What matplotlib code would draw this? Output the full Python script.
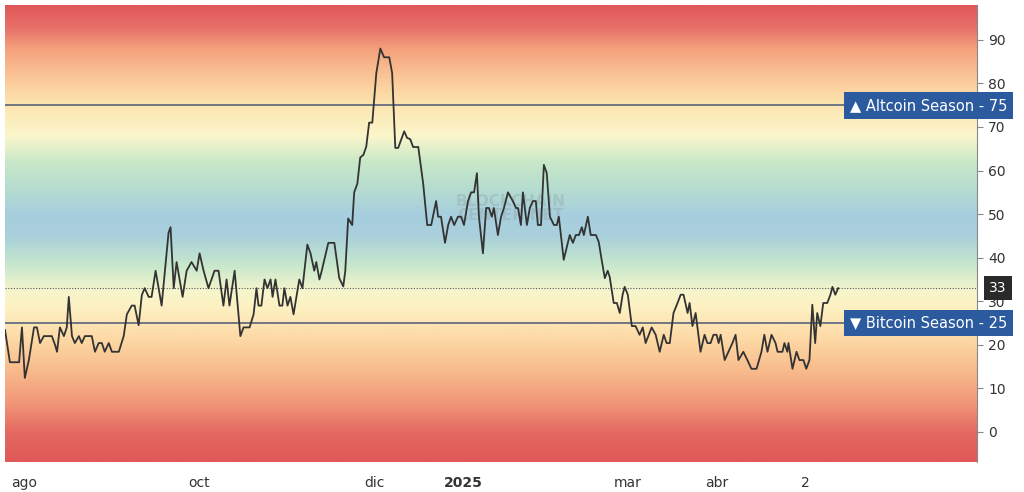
import matplotlib
matplotlib.use("Agg")
import matplotlib.pyplot as plt
import numpy as np
from matplotlib.colors import LinearSegmentedColormap

# day offsets from 2024-08-01 and index values
days = [-6.6,-4.9,-1.7,-0.7,0.3,1.7,3.5,4.5,5.6,6.9,9.7,10.8,11.5,12.5,13.9,14.9,15.6,16.7,17.7,19.1,
        20.1,21.2,23.6,24.7,26.0,27.1,28.1,29.5,30.6,33.0,34.7,35.8,37.5,38.5,39.9,41.0,42.0,43.4,44.4,45.8,
        47.9,50.3,51.0,52.1,53.1,55.2,56.6,58.3,60.1,61.1,62.5,64.2,66.3,67.7,69.4,70.5,71.5,73.3,75.3,76.4,
        78.5,79.9,80.9,81.6,82.6,83.7,84.7,85.8,86.5,87.5,88.9,89.9,90.6,91.7,92.7,93.8,95.8,96.9,98.6,99.7,
        101.0,101.7,102.8,103.5,105.9,108.0,109.7,111.1,111.8,112.8,114.2,114.9,116.0,117.0,118.1,119.1,120.1,121.2,122.6,124.0,
        125.3,127.1,128.1,129.2,130.2,132.3,133.3,134.4,135.4,137.2,138.9,140.3,141.7,143.4,144.1,145.1,146.5,147.6,148.6,149.7,
        151.0,152.1,153.1,154.5,155.6,156.6,157.6,158.3,159.7,160.8,161.8,162.8,163.5,164.9,166.0,167.0,168.4,170.1,171.2,171.9,
        172.9,173.6,175.0,176.0,177.1,178.1,178.8,179.9,180.9,181.9,183.0,184.4,185.4,186.1,187.8,189.9,191.0,192.0,193.1,194.1,
        194.8,196.2,197.2,199.0,200.0,201.0,202.1,203.1,203.8,205.2,206.3,207.3,208.3,209.0,210.1,211.5,212.8,214.2,215.3,216.3,
        218.4,219.8,221.2,222.6,223.6,224.7,226.0,227.4,228.5,229.5,230.9,231.6,232.6,233.7,235.4,236.8,237.8,238.9,239.9,241.0,
        241.7,242.4,243.8,245.1,246.5,247.6,248.6,250.3,251.7,253.1,254.9,256.6,257.6,258.7,260.1,261.5,262.2,263.9,264.6,265.6,
        266.0,267.4,268.8,269.8,271.2,272.2,273.3,274.3,275.3,276.0,277.1,278.1,279.5,280.6,281.3,282.3,283.3]
values = [23.4,16,16,24,12.4,16.5,24,24,20.4,22,22,20,18.4,24,22,24,31,22,20.4,22,
          20.4,22,22,18.4,20.4,20.4,18.4,20.4,18.4,18.4,22,27,29,29,24.5,31.4,33,31,31,37,
          29,45.7,47,33,39,31,37,39,37,41,37,33,37,37,29,35,29,37,22,24,
          24,27,33,29,29,35,33,35,31,35,29,29,33,29,31,27,35,33,43,41,
          37,39,35,36.7,43.4,43.4,35.3,33.4,37,49,47.5,55,57,63,63.6,65.5,71,71,82.4,88,
          86,86,82.4,65.2,65.2,69,67.5,67.2,65.4,65.4,57,47.5,47.5,53,49.4,49.4,43.4,47.5,49.4,47.5,
          49.4,49.4,47.5,53,55,55,59.4,49.4,41,51.4,51.4,49.4,51.4,45.2,49.4,51.4,55,53,51.4,51.4,
          47.5,55,47.5,51.4,53,53,47.5,47.5,61.3,59.4,49.4,47.5,47.5,49.4,39.5,45.2,43.4,45.2,45.2,47,
          45.2,49.4,45.2,45.2,43.6,39.5,35.3,37,35.6,29.6,29.6,27.3,31.5,33.3,31.5,24.3,24.3,22.3,24,20.4,
          24,22.3,18.4,22.3,20.4,20.4,27.3,29.6,31.5,31.5,27.3,29.6,24.3,27.3,18.4,22.3,20.4,20.4,22.3,22.3,
          20.4,22.3,16.5,18.4,20.4,22.3,16.5,18.4,16.5,14.5,14.5,18.4,22.3,18.4,22.3,20.4,18.4,18.4,20.4,18.4,
          20.4,14.5,18.4,16.5,16.5,14.5,16.5,29.2,20.4,27.3,24.3,29.6,29.6,31.5,33.3,31.5,33]

tick_days = [0, 61, 122, 153, 210, 241, 272]
tick_labels = ["ago", "oct", "dic", "2025", "mar", "abr", "2"]
y_ticks = [0, 10, 20, 30, 40, 50, 60, 70, 80, 90]
altcoin_level = 75
bitcoin_level = 25
current_value = 33

W, H = 1024, 492
fig = plt.figure(figsize=(W/100, H/100), dpi=100)
x0, x1, y0, y1 = 5, 977, 5, 462
ax = fig.add_axes([x0/W, 1-y1/H, (x1-x0)/W, (y1-y0)/H])
xmin, xmax = -6.6, 331.6
ymin, ymax = -6.9, 98

stops = [(-6.9,"#e05858"),(0,"#e46a62"),(6,"#f19476"),(14,"#f8bb8c"),(21,"#fdd8a4"),(28,"#fdefc0"),(32,"#f8f6cc"),
         (38,"#c9e8cc"),(45,"#a9d0db"),(50,"#a7cedd"),(55,"#b4dbd2"),(62,"#c8e8c8"),(68,"#fbf6cc"),
         (75,"#fde6b0"),(81,"#fbc99a"),(88,"#f4a27c"),(93,"#e8706a"),(98,"#e05858")]
pos = [(v-ymin)/(ymax-ymin) for v, _ in stops]
cmap = LinearSegmentedColormap.from_list("bg", list(zip(pos, [c for _, c in stops])))
grad = np.linspace(0, 1, 512).reshape(-1, 1)
ax.imshow(grad, aspect="auto", cmap=cmap, origin="lower", extent=[xmin, xmax, ymin, ymax], zorder=0)

ax.axhline(altcoin_level, color="#4a5877", lw=1.1, zorder=2)
ax.axhline(bitcoin_level, color="#4a5877", lw=1.1, zorder=2)
ax.axhline(current_value, color="#555555", lw=0.8, ls=(0, (1, 1.5)), zorder=2)
ax.plot(days, values, color="#333333", lw=1.3, zorder=3)
ax.text(0.52, 0.555, "BLOCKCHAIN\nCENTER.NET", transform=ax.transAxes, ha="center", va="center",
        fontsize=11, color="#8a9a9a", alpha=0.3, fontweight="bold", linespacing=0.9, zorder=1)

ax.set_xlim(xmin, xmax); ax.set_ylim(ymin, ymax)
for s in ["top", "left", "bottom"]:
    ax.spines[s].set_visible(False)
ax.spines["right"].set_color("#888888")
ax.yaxis.tick_right()
ax.set_yticks(y_ticks)
ax.tick_params(axis="y", length=4, color="#888888", labelsize=10, labelcolor="#333333", pad=4)
ax.set_xticks(tick_days)
ax.set_xticklabels(tick_labels)
ax.tick_params(axis="x", length=0, labelsize=10, labelcolor="#333333", pad=10)
ax.get_xticklabels()[3].set_fontweight("bold")

bbox_blue = dict(boxstyle="square,pad=0.4", fc="#2b5a9e", ec="none")
ax.text(1.031, altcoin_level, "▲ Altcoin Season - 75", transform=ax.get_yaxis_transform(),
        ha="right", va="center", color="white", fontsize=10.5, bbox=bbox_blue, zorder=5, clip_on=False)
ax.text(1.031, bitcoin_level, "▼ Bitcoin Season - 25", transform=ax.get_yaxis_transform(),
        ha="right", va="center", color="white", fontsize=10.5, bbox=bbox_blue, zorder=5, clip_on=False)
ax.text(1.0125, current_value, "33", transform=ax.get_yaxis_transform(), ha="left", va="center",
        color="white", fontsize=10, bbox=dict(boxstyle="square,pad=0.35", fc="#2a2a2a", ec="none"),
        zorder=5, clip_on=False)

fig.savefig("out.png", dpi=100, facecolor="white")
